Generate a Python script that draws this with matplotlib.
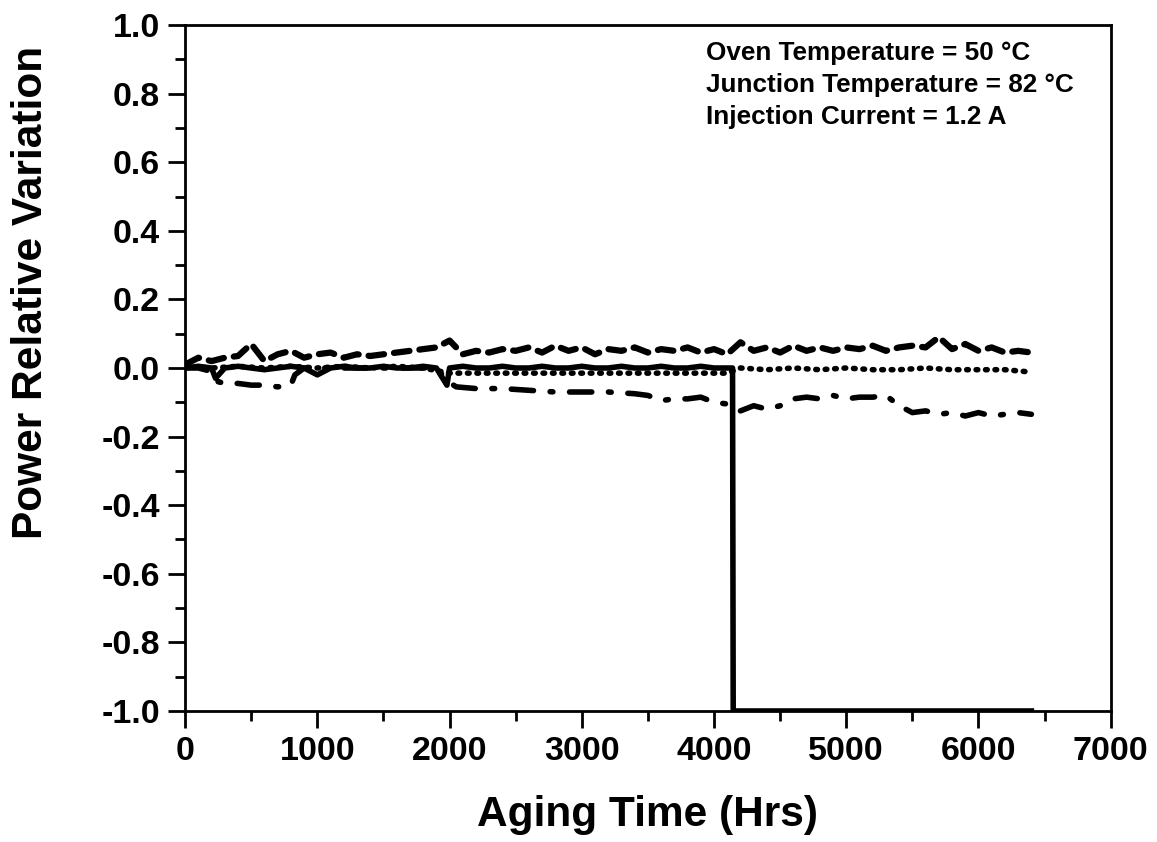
import matplotlib
matplotlib.use("Agg")
import matplotlib.pyplot as plt
from matplotlib.ticker import MultipleLocator

plt.rcParams['font.family'] = ['Liberation Sans', 'DejaVu Sans']
plt.rcParams['font.weight'] = 'bold'

# ---- data ----
t_dash = [0, 100, 200, 300, 400, 500, 600, 700, 800, 900, 1000, 1100, 1200, 1300,
          1400, 1500, 1600, 1700, 1800, 1900, 2000, 2100, 2200, 2300, 2400, 2500,
          2600, 2700, 2800, 2900, 3000, 3100, 3200, 3300, 3400, 3500, 3600, 3700,
          3800, 3900, 4000, 4100, 4200, 4300, 4400, 4500, 4600, 4700, 4800, 4900,
          5000, 5100, 5200, 5300, 5400, 5500, 5600, 5700, 5800, 5900, 6000, 6100,
          6200, 6300, 6400]
v_dash = [0.01, 0.03, 0.02, 0.03, 0.035, 0.07, 0.02, 0.04, 0.05, 0.03, 0.04, 0.045,
          0.03, 0.04, 0.035, 0.04, 0.045, 0.05, 0.055, 0.06, 0.08, 0.04, 0.05, 0.045,
          0.055, 0.05, 0.06, 0.045, 0.065, 0.05, 0.06, 0.04, 0.055, 0.05, 0.06, 0.045,
          0.055, 0.05, 0.06, 0.045, 0.055, 0.04, 0.075, 0.05, 0.06, 0.045, 0.065, 0.05,
          0.06, 0.05, 0.06, 0.055, 0.065, 0.05, 0.06, 0.065, 0.06, 0.09, 0.055, 0.07,
          0.05, 0.06, 0.045, 0.05, 0.045]

t_solid = [0, 100, 200, 230, 300, 400, 500, 600, 700, 800, 900, 1000, 1100, 1200,
           1300, 1400, 1500, 1600, 1700, 1800, 1900, 1980, 2000, 2100, 2200, 2300,
           2400, 2500, 2600, 2700, 2800, 2900, 3000, 3100, 3200, 3300, 3400, 3500,
           3600, 3700, 3800, 3900, 4000, 4100, 4140, 4145, 6400]
v_solid = [0.0, 0.005, 0.0, -0.03, 0.0, 0.005, 0.0, -0.005, 0.0, 0.005, 0.0, -0.02,
           0.0, 0.005, 0.0, 0.0, 0.005, 0.0, 0.0, 0.005, 0.0, -0.05, 0.0, 0.005,
           0.0, 0.0, 0.005, 0.0, 0.0, 0.005, 0.0, 0.0, 0.005, 0.0, 0.0, 0.005, 0.0,
           0.0, 0.005, 0.0, 0.0, 0.005, 0.0, 0.0, 0.0, -1.0, -1.0]

t_dot = [0, 200, 400, 600, 800, 1000, 1200, 1400, 1600, 1800, 2000, 2200, 2400,
         2600, 2800, 3000, 3200, 3400, 3600, 3800, 4000, 4100, 4200, 4400, 4600,
         4800, 5000, 5200, 5400, 5600, 5800, 6000, 6200, 6400]
v_dot = [0.005, 0.0, 0.005, 0.0, 0.005, 0.0, 0.005, 0.0, 0.005, 0.0, -0.015, -0.015,
         -0.015, -0.015, -0.015, -0.015, -0.015, -0.015, -0.015, -0.015, -0.015,
         -0.015, 0.0, -0.005, 0.0, -0.005, 0.0, -0.005, -0.005, 0.0, -0.005, -0.005,
         -0.005, -0.012]

t_dd = [0, 100, 200, 250, 300, 400, 500, 600, 700, 800, 830, 900, 1100, 1300, 1500,
        1700, 1900, 1990, 2050, 2200, 2400, 2600, 2800, 3000, 3200, 3400, 3500, 3600,
        3700, 3800, 3900, 4000, 4100, 4200, 4300, 4400, 4500, 4600, 4700, 4800, 4900,
        5000, 5100, 5200, 5300, 5400, 5500, 5600, 5700, 5800, 5900, 6000, 6100, 6200,
        6300, 6400]
v_dd = [0.0, 0.0, -0.01, -0.04, -0.045, -0.045, -0.05, -0.05, -0.055, -0.05, -0.02,
        0.0, 0.0, 0.0, 0.0, 0.0, 0.0, -0.04, -0.055, -0.06, -0.06, -0.065, -0.07,
        -0.07, -0.07, -0.075, -0.08, -0.095, -0.09, -0.09, -0.085, -0.1, -0.105,
        -0.125, -0.11, -0.12, -0.11, -0.09, -0.085, -0.09, -0.08, -0.09, -0.085,
        -0.085, -0.08, -0.11, -0.13, -0.125, -0.135, -0.13, -0.14, -0.13, -0.14,
        -0.135, -0.13, -0.135]

x_ticks = [0, 1000, 2000, 3000, 4000, 5000, 6000, 7000]
y_ticks = [-1.0, -0.8, -0.6, -0.4, -0.2, 0.0, 0.2, 0.4, 0.6, 0.8, 1.0]

notes = ["Oven Temperature = 50 \u00b0C",
         "Junction Temperature = 82 \u00b0C",
         "Injection Current = 1.2 A"]

# ---- figure ----
fig = plt.figure(figsize=(11.57, 8.42), dpi=100)
ax = fig.add_axes([0.160, 0.1556, 0.8, 0.8147])

ax.plot(t_dash, v_dash, color='black', lw=4.5, linestyle=(0, (2.5, 1.6)),
        solid_capstyle='round', dash_capstyle='round')
ax.plot(t_dot, v_dot, color='black', lw=4, linestyle=(0, (0.3, 1.4)),
        dash_capstyle='round')
ax.plot(t_dd, v_dd, color='black', lw=4, linestyle=(0, (4, 3, 0.5, 3)),
        dash_capstyle='round')
ax.plot(t_solid, v_solid, color='black', lw=4, linestyle='-')

ax.set_xlim(0, 7000)
ax.set_ylim(-1.0, 1.0)
ax.set_xticks(x_ticks)
ax.set_xticklabels([str(v) for v in x_ticks])
ax.set_yticks(y_ticks)
ax.set_yticklabels([f"{v:.1f}" for v in y_ticks])
ax.xaxis.set_minor_locator(MultipleLocator(500))
ax.yaxis.set_minor_locator(MultipleLocator(0.1))

ax.tick_params(axis='both', which='major', direction='out', length=12, width=2,
               labelsize=24.5, pad=6, top=False, right=False)
ax.tick_params(axis='both', which='minor', direction='out', length=7, width=2,
               top=False, right=False)
for lab in ax.get_xticklabels() + ax.get_yticklabels():
    lab.set_fontweight('bold')
for s in ax.spines.values():
    s.set_linewidth(2)

ax.set_xlabel("Aging Time (Hrs)", fontsize=30.5, fontweight='bold', labelpad=20)
ax.set_ylabel("Power Relative Variation", fontsize=30.5, fontweight='bold', labelpad=36)
ax.yaxis.label.set_y(0.61)

ax.text(0.563, 0.976, "\n".join(notes), transform=ax.transAxes, fontsize=18.8,
        fontweight='bold', va='top', ha='left', linespacing=1.42)

fig.savefig("out.png", dpi=100)
